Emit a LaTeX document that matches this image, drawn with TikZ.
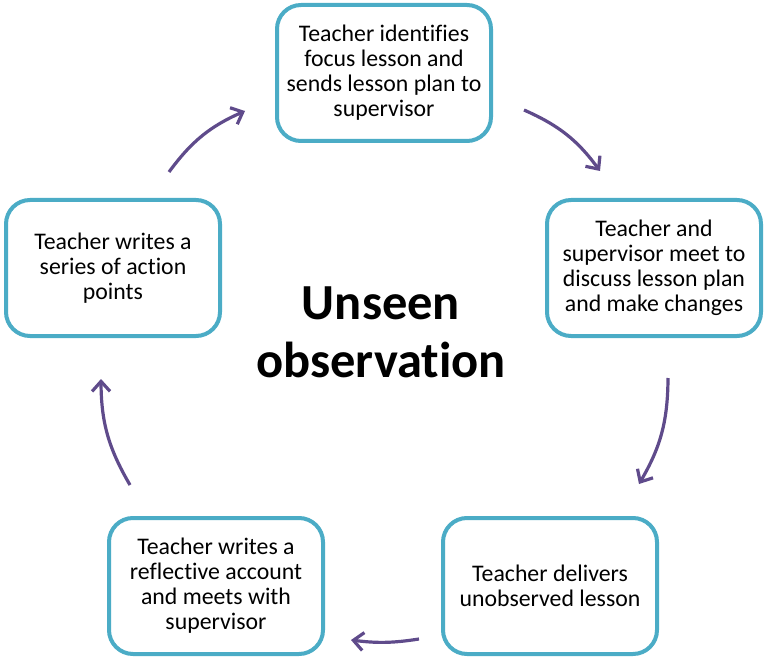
\documentclass[tikz,border=0pt]{standalone}
\usepackage{fontspec}
\setmainfont{Carlito}[RawFeature={-liga;-clig}]
\usetikzlibrary{arrows.meta}
\definecolor{box edge}{HTML}{4BACC6}
\definecolor{cycle arrow}{HTML}{5F4B8B}
\tikzset{
  stage/.style={draw=box edge, line width=4pt, rounded corners=24pt, fill=white,
    minimum width=214pt, minimum height=136pt, align=center,
    font=\fontsize{23.8}{25}\selectfont},
  cycleedge/.style={draw=cycle arrow, line width=3.2pt,
    -{Straight Barb[length=10pt,width=18pt,line width=3.2pt]}},
  title/.style={align=center, font=\fontsize{50.5}{58}\selectfont\bfseries}
}
\begin{document}
\begin{tikzpicture}[x=1pt, y=-1pt]
    \useasboundingbox (0,0) rectangle (768,668);
    \node[stage] (plan) at (384,73) {Teacher identifies\\focus lesson and\\sends lesson plan to\\supervisor};
    \node[stage] (meet) at (654,268) {Teacher and\\supervisor meet to\\discuss lesson plan\\and make changes};
    \node[stage] (deliver) at (550,586) {Teacher delivers\\unobserved lesson};
    \node[stage] (reflect) at (216,586) {Teacher writes a\\reflective account\\and meets with\\supervisor};
    \node[stage] (points) at (113,268) {Teacher writes a\\series of action\\points};
    \node[title] (centre) at (381,332) {Unseen\\observation};
    % arrow ends
    \coordinate (a1) at (524,110); \coordinate (b1) at (600,171);
    \coordinate (a2) at (668,378); \coordinate (b2) at (639,484);
    \coordinate (a3) at (419,639); \coordinate (b3) at (351,640);
    \coordinate (a4) at (130,485); \coordinate (b4) at (101,379);
    \coordinate (a5) at (169,172); \coordinate (b5) at (245,111);
    \draw[cycleedge] (a1) to[bend left=15] (b1);
    \draw[cycleedge] (a2) to[bend left=15] (b2);
    \draw[cycleedge] (a3) to[bend left=8] (b3);
    \draw[cycleedge] (a4) to[bend left=15] (b4);
    \draw[cycleedge] (a5) to[bend left=15] (b5);
\end{tikzpicture}
\end{document}
